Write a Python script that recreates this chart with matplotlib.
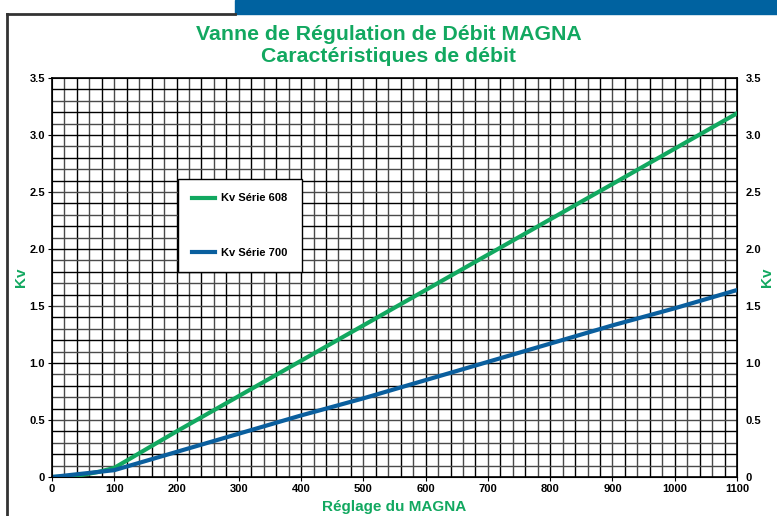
import numpy as np
import matplotlib.pyplot as plt
from matplotlib.patches import Rectangle
from matplotlib.lines import Line2D

# valeurs
reglage = [0, 25, 50, 75, 100, 200, 300, 400, 500, 600, 700, 800, 900, 1000, 1100]
kv_608 = [0, 0.005, 0.02, 0.045, 0.08, 0.40, 0.71, 1.02, 1.33, 1.64, 1.95, 2.26, 2.57, 2.88, 3.19]
kv_700 = [0, 0.015, 0.03, 0.045, 0.06, 0.22, 0.38, 0.54, 0.69, 0.85, 1.01, 1.17, 1.33, 1.48, 1.64]
x_ticks = [0, 100, 200, 300, 400, 500, 600, 700, 800, 900, 1000, 1100]
y_ticks = [0, 0.5, 1.0, 1.5, 2.0, 2.5, 3.0, 3.5]
y_labels = ['0', '0.5', '1.0', '1.5', '2.0', '2.5', '3.0', '3.5']

green = '#12a860'
blue = '#0a5f9e'

plt.rcParams['font.family'] = ['Liberation Sans', 'DejaVu Sans']

fig = plt.figure(figsize=(7.77, 5.16), dpi=100)

# bandeau bleu et cadre
fig.patches.append(Rectangle((235/777, 1-14/516), 1-235/777, 14/516,
                             transform=fig.transFigure, color='#0062a0', zorder=0))
fig.lines.append(Line2D([7/777, 7/777], [0, 1-14/516], transform=fig.transFigure,
                        color='#333333', lw=2))
fig.lines.append(Line2D([7/777, 235/777], [1-14/516, 1-14/516], transform=fig.transFigure,
                        color='#333333', lw=2))

ax = fig.add_axes([52/777, 39/516, 685/777, 399/516])
ax.set_xlim(0, 1100)
ax.set_ylim(0, 3.5)

# grille
for i, xv in enumerate(np.arange(20, 1100, 20)):
    ax.axvline(xv, color='black' if i % 2 else '#4a4a4a', lw=1.0, zorder=1)
for i, yv in enumerate(np.arange(0.1, 3.5, 0.1)):
    ax.axhline(yv, color='black' if i % 2 else '#4a4a4a', lw=1.0, zorder=1)

ax.plot(reglage, kv_608, color=green, lw=3, zorder=3, label='Kv Série 608')
ax.plot(reglage, kv_700, color=blue, lw=3, zorder=3, label='Kv Série 700')

ax.set_xticks(x_ticks)
ax.set_xticklabels([str(v) for v in x_ticks], fontsize=8, fontweight='bold')
ax.set_yticks(y_ticks)
ax.set_yticklabels(y_labels, fontsize=8, fontweight='bold')
ax.tick_params(axis='both', length=3, width=0.8, pad=2)
for s in ax.spines.values():
    s.set_linewidth(1.2)

ax.set_xlabel('Réglage du MAGNA', color=green, fontsize=11, fontweight='bold', labelpad=4)
ax.set_ylabel('Kv', color=green, fontsize=11, fontweight='bold', labelpad=1)

ax2 = ax.twinx()
ax2.set_ylim(0, 3.5)
ax2.set_yticks(y_ticks)
ax2.set_yticklabels(y_labels, fontsize=8, fontweight='bold')
ax2.tick_params(axis='y', length=0, pad=6)
ax2.set_ylabel('Kv', color=green, fontsize=11, fontweight='bold', rotation=90,
               ha='center', va='center')
ax2.yaxis.set_label_coords((767 - 52) / 685, 0.5)

leg = ax.legend(loc='upper left', bbox_to_anchor=(126/685, 1-101/399), fontsize=8,
                frameon=True, fancybox=False, edgecolor='black', framealpha=1,
                handlelength=2.0, handletextpad=0.6, labelspacing=4.0,
                borderpad=1.3, borderaxespad=0)
for t in leg.get_texts():
    t.set_fontweight('bold')
leg.get_frame().set_linewidth(1.0)
leg.set_zorder(5)

fig.text(0.5, 1-34/516, 'Vanne de Régulation de Débit MAGNA', ha='center', va='center',
         color=green, fontsize=15.3, fontweight='bold')
fig.text(0.5, 1-57/516, 'Caractéristiques de débit', ha='center', va='center',
         color=green, fontsize=15.3, fontweight='bold')

fig.savefig('out.png', dpi=100)
